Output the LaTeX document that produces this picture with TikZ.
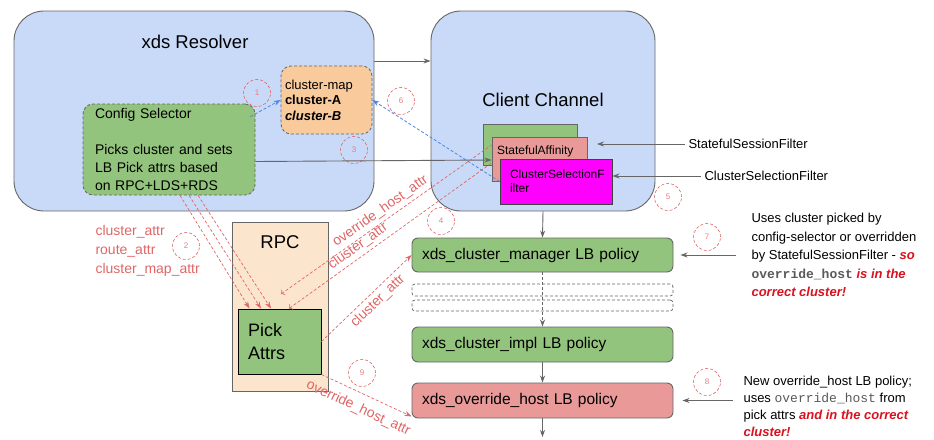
\documentclass[tikz,border=0pt]{standalone}
\usepackage{fontspec}
\setmainfont{Liberation Sans}
\setmonofont{Liberation Mono}
\usepackage{xcolor}
\usetikzlibrary{positioning, shapes, arrows.meta, calc}

\definecolor{paneblue}{HTML}{C9DAF8}
\definecolor{edgegray}{HTML}{666666}
\definecolor{boxgreen}{HTML}{93C47D}
\definecolor{maporange}{HTML}{F9CB9C}
\definecolor{rpcpeach}{HTML}{FCE5CD}
\definecolor{boxpink}{HTML}{EA9999}
\definecolor{filtermagenta}{HTML}{FF00FF}
\definecolor{attrred}{HTML}{E06666}
\definecolor{cfgblue}{HTML}{4A86E8}
\definecolor{alertred}{HTML}{D8121F}
\definecolor{monogray}{HTML}{595959}

\newcommand{\alert}[1]{\textcolor{alertred}{\textbf{\textit{#1}}}}

\tikzset{
  panel/.style={draw=edgegray, line width=0.9pt, fill=paneblue, rounded corners=30pt},
  title/.style={font=\fontsize{18.5}{22}\selectfont},
  lbbox/.style={draw=edgegray, line width=0.9pt, rounded corners=6pt, minimum width=261pt, text width=241pt, inner xsep=10pt, align=left, font=\fontsize{15.5}{18}\selectfont},
  dashbox/.style={draw=edgegray, line width=0.7pt, dash pattern=on 3pt off 2pt, rounded corners=3pt, minimum width=261pt},
  filterbox/.style={draw=edgegray, line width=0.9pt, align=left, font=\fontsize{12}{14}\selectfont},
  badge/.style={circle, draw=attrred, line width=0.6pt, dash pattern=on 3pt off 2pt, minimum size=27pt, inner sep=0pt, text=attrred!85, font=\fontsize{8}{8}\selectfont},
  arr/.style={draw=edgegray, line width=0.9pt, -{Stealth[length=7pt,width=5pt]}},
  attrarr/.style={draw=attrred, line width=0.7pt, dash pattern=on 3pt off 2pt, -{Stealth[length=7pt,width=5pt]}},
  cfgarr/.style={draw=cfgblue, line width=0.8pt, dash pattern=on 3pt off 2pt, -{Stealth[length=7pt,width=5pt]}},
  attrtext/.style={text=attrred, font=\fontsize{14}{19}\selectfont},
  note/.style={anchor=west, align=left, font=\fontsize{13}{18.5}\selectfont},
}

\begin{document}
\begin{tikzpicture}[x=1pt, y=-1pt]
\useasboundingbox (0,0) rectangle (934,439);

\node[panel, minimum width=360pt, minimum height=200pt] (resolver) at (194,111) {};
\node[title] (resolvertitle) at (195,42) {xds Resolver};
\node[panel, minimum width=224pt, minimum height=200pt] (channel) at (543,111) {};
\node[title] (channeltitle) at (543,100) {Client Channel};

\node[draw=edgegray, line width=0.8pt, dash pattern=on 3pt off 2pt, rounded corners=10pt, fill=maporange,
  minimum width=91pt, minimum height=68pt, text width=83pt, inner xsep=4pt, align=left,
  font=\fontsize{13}{15.5}\selectfont] (clustermap) at (326.5,100)
  {cluster-map\\\textbf{cluster-A}\\\textbf{\textit{cluster-B}}};
\node[draw=edgegray, line width=0.8pt, dash pattern=on 3pt off 2pt, rounded corners=10pt, fill=boxgreen,
  minimum width=172pt, minimum height=91pt, text width=148pt, inner xsep=12pt, align=left,
  font=\fontsize{14}{18}\selectfont] (configsel) at (169,149.5)
  {Config Selector\\[18pt]Picks cluster and sets\\LB Pick attrs based\\on RPC+LDS+RDS};

\node[filterbox, fill=boxgreen, minimum width=94pt, minimum height=41pt] (filterback) at (530,144.5) {};
\node[filterbox, fill=boxpink, minimum width=95pt, minimum height=44pt, text width=85pt, inner xsep=5pt] (affinity) at (539.5,159) {StatefulAffinity\\\strut};
\node[filterbox, draw=black!75, fill=filtermagenta, minimum width=112pt, minimum height=45pt, text width=92pt, inner xsep=10pt] (csf) at (556,181.5) {ClusterSelectionF\\ilter};

\node[note] (sslabel) at (685,144) {StatefulSessionFilter};
\node[note] (cslabel) at (701,176) {ClusterSelectionFilter};

\node[draw=edgegray, line width=0.9pt, fill=rpcpeach, minimum width=96pt, minimum height=169pt] (rpc) at (280,306.5) {};
\node[title] (rpctitle) at (280,242) {RPC};
\node[draw=black, line width=0.9pt, fill=boxgreen, minimum width=83pt, minimum height=65pt, text width=63pt, inner xsep=10pt, align=left,
  font=\fontsize{18}{23}\selectfont] (pick) at (279.5,341.5) {Pick\\Attrs};

\node[lbbox, fill=boxgreen, minimum height=34pt] (cm) at (542.5,255) {xds\_cluster\_manager LB policy};
\node[dashbox, minimum height=12pt] (gap1) at (542.5,290) {};
\node[dashbox, minimum height=11pt] (gap2) at (542.5,305.5) {};
\node[lbbox, fill=boxgreen, minimum height=35pt] (impl) at (542.5,344.5) {xds\_cluster\_impl LB policy};
\node[lbbox, fill=boxpink, minimum height=35pt] (oh) at (542.5,400.5) {xds\_override\_host LB policy};
\coordinate (out) at (542.5,437);

\node[attrtext, anchor=west, align=left] (attrlist) at (92,251) {cluster\_attr\\route\_attr\\cluster\_map\_attr};

\node[note] (note7) at (748,255) {Uses cluster picked by\\config-selector or overridden\\by StatefulSessionFilter - \alert{so}\\\textcolor{monogray}{\texttt{\textbf{override\_host}}} \alert{is in the}\\\alert{correct cluster!}};
\node[note, font=\fontsize{13}{17}\selectfont] (note8) at (740,406) {New override\_host LB policy;\\uses \textcolor{monogray}{\texttt{override\_host}} from\\pick attrs \alert{and in the correct}\\\alert{cluster!}};

\node[badge] (b1) at (257,93) {1};
\node[badge] (b2) at (186,246) {2};
\node[badge] (b3) at (354,150) {3};
\node[badge] (b4) at (441,221) {4};
\node[badge] (b5) at (668,197) {5};
\node[badge] (b6) at (401,101) {6};
\node[badge] (b7) at (707,237) {7};
\node[badge] (b8) at (707,382) {8};
\node[badge] (b9) at (362,373) {9};

\draw[arr] ($(resolver.east)+(0,-50)$) -- ($(channel.west)+(0,-50)$);
\draw[arr] ($(configsel.east)+(0,12)$) -- ($(affinity.west)+(0,1)$);
\draw[arr] (sslabel.west) -- +(-88,0);
\draw[arr] (cslabel.west) -- (csf.east |- cslabel.west);
\draw[arr] (channel.south) -- (cm.north);
\draw[arr, dash pattern=on 3pt off 2pt] (cm.south) -- (impl.north);
\draw[arr] (impl.south) -- (oh.north);
\draw[arr] (oh.south) -- (out);
\draw[arr] ([xshift=-12pt]note7.west) -- ([xshift=7pt]cm.east);
\draw[arr] ($(note8.west |- oh.east)+(-7,0)$) -- ([xshift=9pt]oh.east);

\draw[cfgarr] ($(configsel.north east)+(-5,13)$) -- (clustermap.west);
\draw[cfgarr] (csf.west) -- (clustermap.east);

\draw[attrarr] ($(configsel.south)+(11,0)$) -- ($(pick.north)+(-30,0)$);
\draw[attrarr] ($(configsel.south)+(20,0)$) -- ($(pick.north)+(-18.5,0)$);
\draw[attrarr] ($(configsel.south)+(29,0)$) -- ($(pick.north)+(-8.5,0)$);
\coordinate (ohend) at (281,294);
\draw[attrarr, <-] (ohend) -- node[attrtext, sloped, above, pos=0.5] {override\_host\_attr} ($(affinity.west)+(0,-14)$);
\draw[attrarr, <-] ($(pick.north)+(9.5,0)$) -- node[attrtext, sloped, above, pos=0.37] {cluster\_attr} ($(affinity.west)+(0,4)$);
\draw[attrarr] (pick.east) -- node[attrtext, sloped, below, pos=0.55] {cluster\_attr} (cm.west);
\draw[attrarr] (pick.south east) -- node[attrtext, sloped, below=5pt, pos=0.48] {override\_host\_attr} ($(oh.south west)+(0,-2)$);
\end{tikzpicture}
\end{document}
